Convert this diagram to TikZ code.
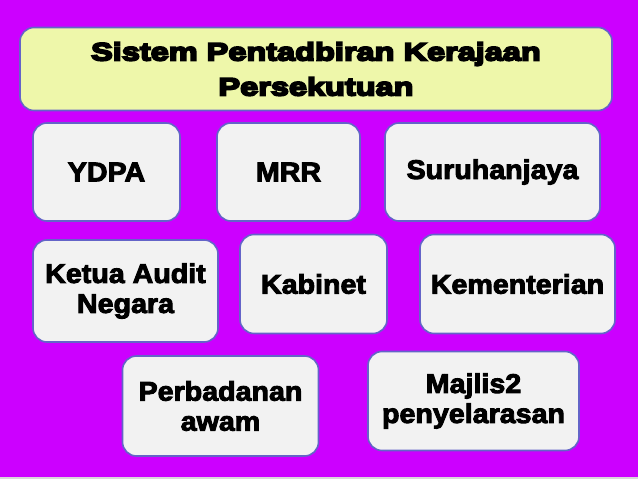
\documentclass[tikz,border=0pt]{standalone}
\usepackage{fontspec}
\newfontfamily\titlefont{Liberation Sans}[BoldFeatures={FakeBold=7.5,FakeStretch=1.3}]
\newfontfamily\boxfont{Liberation Sans}[BoldFeatures={FakeBold=3.5,FakeStretch=1.06}]
\definecolor{bgmag}{HTML}{CC00FF}
\definecolor{boxfill}{HTML}{F2F2F2}
\definecolor{boxline}{HTML}{6464C8}
\definecolor{titlefill}{HTML}{EEF7AA}
\tikzset{
  itembox/.style={draw=boxline, line width=1.6pt, fill=boxfill, rounded corners=14pt,
    align=center, inner sep=0pt, font=\boxfont\bfseries\fontsize{27}{30}\selectfont},
  titlebox/.style={draw=boxline, line width=1.6pt, fill=titlefill, rounded corners=14pt,
    align=center, inner sep=0pt, font=\titlefont\bfseries\fontsize{25}{35}\selectfont}
}
\begin{document}
\begin{tikzpicture}[x=1pt,y=-1pt]
\fill[bgmag] (0,0) rectangle (638,479);
\useasboundingbox (0,0) rectangle (638,479);
\fill[gray!30] (0,477) rectangle (638,479);
\node[titlebox, minimum width=592pt, minimum height=83pt] (title) at (316,69)
  {Sistem Pentadbiran Kerajaan\\Persekutuan};
\node[itembox, minimum width=147pt, minimum height=98pt] (ydpa) at (106.5,172) {YDPA};
\node[itembox, minimum width=143pt, minimum height=98pt] (mrr) at (288.5,172) {MRR};
\node[itembox, minimum width=215pt, minimum height=98pt] (suru) at (492.5,172) {Suruhanjaya};
\node[itembox, minimum width=185pt, minimum height=102pt] (ketua) at (125.5,291) {Ketua Audit\\Negara};
\node[itembox, minimum width=147pt, minimum height=99pt] (kabinet) at (313.5,284) {Kabinet};
\node[itembox, minimum width=195pt, minimum height=99pt] (kemen) at (517.5,284) {Kementerian};
\node[itembox, minimum width=196pt, minimum height=100pt] (perb) at (220.5,406) {Perbadanan\\awam};
\node[itembox, minimum width=211pt, minimum height=99pt] (majlis) at (473.5,401) {Majlis2\\penyelarasan};
\end{tikzpicture}
\end{document}
